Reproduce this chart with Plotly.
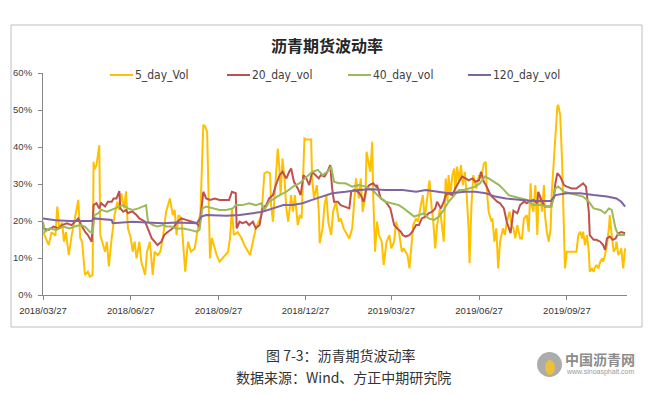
import plotly.graph_objects as go
import pandas as pd

START = pd.Timestamp("2018-03-27")

# (day offset from 2018-03-27, volatility %)
vol_5 = [(0,17.1),(4,14.4),(6,13.5),(9,17),(13,16),(15,23.9),(17,18),(20,19.6),(22,14.4),(24,17),(27,10.8),(30,16),(33,19.8),(37,25.7),(39,15.4),(41,14.4),(44,5.4),(47,6.3),(49,5),(52,5.4),(53,36),(54,34),(56,35),(59,40.5),(60,16.2),(62,14.4),(65,11.7),(67,14.4),(69,7.7),(72,15.4),(75,21.6),(78,25.2),(80,23),(82,27.5),(85,23.4),(87,28),(89,18),(92,15.4),(94,11.7),(96,14.4),(98,9.9),(101,14.4),(103,9),(107,5.4),(109,11.7),(112,14.4),(115,5.4),(117,11.7),(120,10.8),(123,11.7),(126,16.2),(129,22.5),(133,26.1),(136,21.6),(138,23),(140,16.2),(142,21.6),(145,20.7),(149,6.3),(152,14.4),(155,11.7),(159,12.6),(162,17.1),(165,22.5),(168,46),(170,45.5),(172,44),(174,24.3),(175,9.9),(177,15.4),(180,12.6),(182,10.8),(185,9),(190,10.4),(194,11.7),(196,15.4),(198,23.4),(200,16.2),(204,17),(208,15.4),(211,13.5),(215,11.7),(217,10.8),(220,14.4),(223,18),(229,21.6),(232,32.9),(235,33.3),(238,32.9),(239,24.3),(241,19.8),(243,27.9),(246,39.6),(248,33.3),(249,27),(251,36.9),(253,31.5),(255,23.4),(257,19.8),(260,27),(262,22.5),(264,27),(267,18.9),(269,21.6),(271,20.7),(274,42.3),(276,42),(281,42),(282,31.5),(284,26.1),(287,29.7),(289,22.5),(290,14),(293,18),(295,24.3),(297,27),(299,19.8),(302,16.2),(304,22.5),(307,25.2),(310,19.8),(312,20.7),(315,18),(317,17.1),(321,15.3),(324,18),(326,24.3),(328,31.5),(331,26.1),(333,31.5),(335,22.5),(338,27),(339,38.7),(341,36),(343,33.3),(345,41.4),(346,27),(348,11.7),(350,19.8),(352,16.2),(355,14.4),(357,8.1),(360,14.4),(363,16.2),(365,12.6),(368,14.4),(370,19.8),(373,17.1),(376,11.7),(378,12.6),(382,10.8),(384,7.2),(386,12.6),(388,18.9),(391,20.7),(393,19.8),(396,24.3),(398,27),(400,20.7),(403,27.9),(405,31),(407,24.3),(409,19.8),(411,12.6),(413,18.9),(416,23.4),(418,18),(420,14.4),(422,31.5),(424,25.2),(425,32.4),(427,27),(429,32.4),(431,34.2),(432,27.9),(434,34.7),(436,30.6),(438,35.1),(440,29.7),(442,33.3),(444,27),(446,18),(447,8.6),(449,24.3),(451,32.4),(454,28.8),(457,32.4),(459,31.5),(462,35.5),(464,36),(465,28.8),(467,22.5),(470,19.8),(471,20.7),(473,14.4),(475,18),(477,7.2),(479,14.4),(482,18),(484,16.2),(486,19.8),(489,22.5),(491,18.9),(493,18),(495,15.3),(497,18.9),(500,15.3),(502,15.3),(504,20.7),(507,21.6),(509,17.1),(511,30.2),(512,24.3),(514,22.5),(516,29.7),(518,16.2),(519,24.3),(521,27),(523,22.5),(525,29.7),(526,21.6),(528,17.1),(530,14.4),(532,18),(533,27),(535,36),(537,45),(539,50.9),(540,51.4),(542,48.6),(544,36),(546,19.8),(547,7.2),(549,11.7),(552,11.7),(556,11.7),(559,11.7),(561,16.2),(563,17.1),(565,15.3),(566,17.1),(568,13.5),(570,16.2),(572,11.7),(573,6.3),(575,7.2),(577,6.3),(578,7.2),(580,8.1),(582,7.2),(584,9),(586,9.9),(587,9),(589,10.8),(591,13.5),(593,18),(594,21.6),(596,16.2),(598,11.7),(600,12.6),(601,14.4),(603,10.8),(605,11.7),(606,12.6),(608,7.2),(610,12.6)]

vol_20 = [(0,18),(6,17.6),(11,18.5),(16,18),(20,18.9),(25,19.4),(30,18.9),(33,19.8),(37,20.7),(40,18.9),(44,17.1),(47,16.2),(51,14.4),(53,24.3),(56,24.8),(59,23.4),(61,24.8),(65,23.9),(68,25.2),(72,25.2),(74,26.1),(77,26.1),(80,28.1),(81,23.4),(84,22.5),(87,23),(89,22.1),(92,22.5),(94,22.5),(98,21.6),(101,20.7),(107,19.8),(110,18),(114,15.3),(117,14.4),(120,13.5),(124,14.4),(127,16.2),(131,17.1),(136,18),(141,19.8),(145,20.7),(150,20.3),(155,19.8),(161,19.4),(164,18.5),(166,24.3),(168,27.9),(171,26.1),(175,25.7),(180,26.1),(185,25.7),(190,25.7),(195,25.7),(198,27.9),(202,27.5),(203,18),(206,19.8),(209,19.4),(213,19.8),(216,18.9),(220,19.8),(223,18),(227,18.9),(230,23.4),(234,24.3),(237,26.1),(241,27),(244,29.7),(248,32.4),(251,33.3),(255,31.5),(258,33.3),(260,34.2),(263,30.6),(267,28.8),(270,27),(273,32.4),(276,31.5),(279,29.7),(282,33.3),(286,32.4),(289,31.5),(291,32.4),(295,32),(298,33.3),(301,35.1),(303,28.8),(305,25.2),(309,25.2),(312,24.3),(316,23.9),(321,23.4),(323,27.9),(326,28.4),(330,27.9),(333,27),(336,25.2),(339,28.8),(342,29.7),(346,30.2),(349,29.3),(350,29.7),(354,26.1),(359,25.2),(364,23.4),(368,18.9),(371,18),(375,17.1),(377,16.2),(380,15.8),(384,16.2),(387,17.1),(391,18.9),(394,18.9),(397,20.7),(401,21.2),(404,22.1),(408,22.5),(411,23.4),(413,25.2),(417,23.4),(420,25.2),(422,27),(425,27.5),(429,27),(432,28.8),(436,30.6),(439,32),(443,31.5),(446,31),(450,31.5),(453,30.6),(457,31),(459,33.3),(462,30.6),(465,29.3),(469,27),(472,26.1),(476,25.2),(479,24.8),(483,23.4),(486,19.8),(490,16.7),(493,22.8),(497,22.1),(500,24.3),(504,25.2),(507,24.8),(511,25.2),(514,25.7),(518,24.8),(519,27.9),(523,25.2),(526,23.9),(532,23.9),(535,26.1),(537,30.2),(539,32.9),(542,32),(546,29.7),(549,29.3),(554,28.8),(559,28.8),(563,29.7),(566,30.2),(569,29.3),(572,22.5),(573,16.2),(577,14.9),(580,14.9),(584,14.4),(587,13.5),(589,12.2),(591,15.3),(594,15.8),(597,14.9),(600,15.3),(603,16.7),(606,17),(610,16.7)]

vol_40 = [(0,19.8),(2,17.1),(7,18),(14,17.6),(21,18.5),(28,18),(33,18.5),(39,18.9),(44,18.5),(49,17.1),(52,16.7),(54,21.6),(58,22.1),(61,23),(67,22.5),(72,23),(79,23.9),(84,24.3),(89,23.4),(94,23),(100,23.4),(105,23.9),(108,24.3),(110,19.8),(115,18.9),(120,18.5),(126,18.9),(129,18.5),(134,18.5),(140,18),(147,18),(154,17.6),(161,17.1),(164,17.6),(167,23.4),(171,23.9),(178,23.4),(185,23),(192,23),(199,23.4),(202,24.3),(209,24.3),(216,24.8),(223,24.3),(229,24.8),(232,23),(237,25.2),(242,26.1),(248,27),(255,27.9),(262,29.3),(269,30.2),(276,32),(282,33.3),(288,33.8),(293,32.4),(298,33.3),(302,34.7),(305,30.6),(310,30.2),(317,30.2),(324,29.3),(331,29.7),(338,29.3),(345,28.4),(352,26.6),(359,25.2),(366,24.8),(373,24.3),(378,23.4),(384,22.1),(389,21.2),(394,21.6),(399,22.1),(404,20.7),(410,20.3),(415,21.2),(420,23),(425,25.2),(431,27),(436,28.4),(441,28.4),(446,28.8),(453,29.3),(458,30.2),(463,32),(467,31.5),(472,30.6),(478,29.7),(483,28.4),(488,27),(493,26.6),(500,26.1),(507,25.7),(514,24.3),(521,24.3),(528,23.9),(533,23.9),(537,28.8),(540,29.3),(546,27.9),(552,27.5),(559,27),(566,26.6),(572,25.2),(577,23.4),(584,23),(589,22.1),(593,23.4),(596,23),(600,18),(603,16.2),(606,16.2),(610,16.2)]

vol_120 = [(0,20.7),(13,20.2),(28,20),(49,20),(51,20),(53,20.7),(72,20.3),(73,19.4),(80,19.6),(94,19.8),(108,19.6),(126,19.4),(140,19.6),(161,19.4),(166,21.2),(171,21.6),(192,21.4),(206,21.6),(220,22.1),(230,22.5),(241,23.4),(252,24.3),(262,24.3),(272,24.8),(282,25.7),(293,26.6),(303,27.5),(317,27.9),(331,28.4),(345,28.6),(359,28.4),(377,28.4),(391,27.9),(401,28.4),(415,27.9),(425,27.5),(443,27.9),(453,27.9),(464,27.5),(474,26.6),(485,26.1),(493,25.9),(514,25.4),(532,25.4),(537,27),(549,27.5),(563,27.5),(577,27),(591,26.6),(601,26.1),(606,25.2),(610,23.9)]

series_names = ["5_day_Vol", "20_day_vol", "40_day_vol", "120_day_vol"]
series_data = [vol_5, vol_20, vol_40, vol_120]
series_colors = ["#FFC000", "#C0504D", "#9BBB59", "#8064A2"]

tick_dates = ["2018-03-27", "2018-06-27", "2018-09-27", "2018-12-27",
              "2019-03-27", "2019-06-27", "2019-09-27"]
tick_labels = ["2018/03/27", "2018/06/27", "2018/09/27", "2018/12/27",
               "2019/03/27", "2019/06/27", "2019/09/27"]
y_ticks = [0, 10, 20, 30, 40, 50, 60]
y_labels = ["0%", "10%", "20%", "30%", "40%", "50%", "60%"]

fig = go.Figure()
for name, data, color in zip(series_names, series_data, series_colors):
    days = [d for d, _ in data]
    vals = [v for _, v in data]
    x = [START + pd.Timedelta(days=d) for d in days]
    fig.add_trace(go.Scatter(x=x, y=vals, mode="lines", name=name,
                             line=dict(color=color, width=2), showlegend=False))

W, H = 649, 395
L, R, T, B = 43, 22, 73, 100
PW, PH = W - L - R, H - T - B

def px(xpix):
    return (xpix - L) / PW

def py(ypix):
    return (H - B - ypix) / PH

shapes = []
annotations = []
# outer frame
shapes.append(dict(type="rect", xref="paper", yref="paper",
                   x0=px(11), x1=px(642), y0=py(327), y1=py(25),
                   line=dict(color="#BFBFBF", width=1), layer="below"))
# title
annotations.append(dict(text="<b>沥青期货波动率</b>", xref="paper", yref="paper",
                        x=px(327), y=py(45), showarrow=False,
                        font=dict(family="Noto Sans CJK SC", size=16, color="#262626"),
                        xanchor="center", yanchor="middle"))
# manual legend
leg_x = [110, 227, 348, 468]
for lx, name, color in zip(leg_x, series_names, series_colors):
    shapes.append(dict(type="line", xref="paper", yref="paper",
                       x0=px(lx), x1=px(lx + 23), y0=py(75), y1=py(75),
                       line=dict(color=color, width=2)))
    annotations.append(dict(text=name, xref="paper", yref="paper",
                            x=px(lx + 23), y=py(75), showarrow=False,
                            xanchor="left", yanchor="middle",
                            font=dict(family="Liberation Sans Narrow, DejaVu Sans Condensed, Arial Narrow, sans-serif",
                                      size=12, color="#404040")))
# captions
annotations.append(dict(text="图 7-3：沥青期货波动率", xref="paper", yref="paper",
                        x=px(341), y=py(355), showarrow=False,
                        font=dict(family="Noto Sans CJK SC", size=14, color="#333333"),
                        xanchor="center", yanchor="middle"))
annotations.append(dict(text="数据来源：Wind、方正中期研究院", xref="paper", yref="paper",
                        x=px(343), y=py(377), showarrow=False,
                        font=dict(family="Noto Sans CJK SC", size=14, color="#333333"),
                        xanchor="center", yanchor="middle"))
# watermark logo
shapes.append(dict(type="circle", xref="paper", yref="paper",
                   x0=px(537), x1=px(562), y0=py(377), y1=py(352),
                   fillcolor="#9E9E9E", line=dict(width=0), opacity=0.85))
shapes.append(dict(type="circle", xref="paper", yref="paper",
                   x0=px(545), x1=px(555), y0=py(375), y1=py(360),
                   fillcolor="#F2C230", line=dict(width=0), opacity=0.9))
annotations.append(dict(text="<b>中国沥青网</b>", xref="paper", yref="paper",
                        x=px(600), y=py(359), showarrow=False,
                        font=dict(family="Noto Sans CJK SC", size=14, color="#8C8C8C"),
                        xanchor="center", yanchor="middle"))
annotations.append(dict(text="www.sinoasphalt.com", xref="paper", yref="paper",
                        x=px(600), y=py(372), showarrow=False,
                        font=dict(family="Liberation Sans Narrow, Arial Narrow, sans-serif", size=7, color="#9A9A9A"),
                        xanchor="center", yanchor="middle"))

fig.update_layout(
    width=W, height=H,
    margin=dict(l=L, r=R, t=T, b=B, pad=0),
    paper_bgcolor="white", plot_bgcolor="white",
    shapes=shapes, annotations=annotations,
    showlegend=False,
    xaxis=dict(type="date",
               range=[START, START + pd.Timedelta(days=612)],
               tickvals=tick_dates, ticktext=tick_labels,
               showgrid=False, zeroline=False,
               showline=True, linecolor="#868686", linewidth=1,
               ticks="outside", ticklen=4, tickcolor="#868686",
               ticklabelstandoff=3,
               tickfont=dict(family="Liberation Sans, Arial, sans-serif", size=9.5, color="#333333")),
    yaxis=dict(range=[0, 60], tickvals=y_ticks, ticktext=y_labels,
               showgrid=False, zeroline=False,
               showline=True, linecolor="#868686", linewidth=1,
               ticks="outside", ticklen=4, tickcolor="#868686",
               ticklabelstandoff=4,
               tickfont=dict(family="Liberation Sans, Arial, sans-serif", size=9.5, color="#404040")),
)

fig.write_html("out.html",
               config={"displayModeBar": False},
               post_script="document.body.style.margin='0';document.body.style.overflow='hidden';")
